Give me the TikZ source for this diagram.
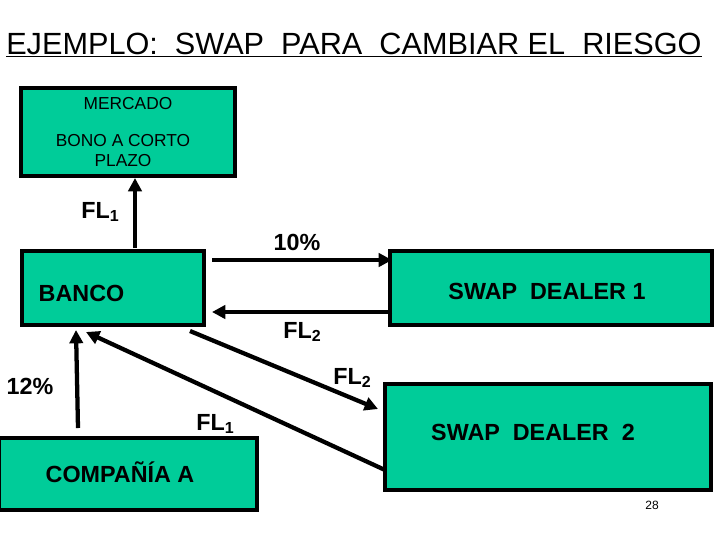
\documentclass[tikz,border=0pt]{standalone}
\usepackage{fontspec}
\setmainfont{Liberation Sans}
\usetikzlibrary{arrows.meta}
\definecolor{boxg}{HTML}{00CC99}
\newcommand{\sbs}[1]{\raisebox{-0.3ex}{\fontsize{12}{12}\selectfont #1}}
\tikzset{
  box/.style={draw=black, line width=3pt, fill=boxg, inner sep=0pt},
  flow/.style={line width=3.2pt, -{Triangle[length=10pt,width=10pt]}},
  lbl/.style={font=\fontsize{17.5}{19}\selectfont\bfseries},
  small/.style={font=\fontsize{13}{15}\selectfont, align=center}
}
\begin{document}
\begin{tikzpicture}[x=0.75pt,y=-0.75pt]
\useasboundingbox (0,0) rectangle (720,540);
\node[anchor=base west,font=\fontsize{23}{25}\selectfont, inner sep=0pt] (title) at (6,54) {\underline{EJEMPLO:\ \ SWAP\ \ PARA\ \ CAMBIAR EL\ \ RIESGO}};
\node[box, minimum width=160pt, minimum height=66pt] (merc) at (128,132) {};
\node[small] (mtxt) at (128,104) {MERCADO};
\node[small] (btxt) at (123,151) {BONO A CORTO\\PLAZO};
\node[box, minimum width=137pt, minimum height=56pt] (banco) at (113,288) {};
\node[lbl,anchor=west] (bt) at (34,293) {BANCO};
\node[box, minimum width=241pt, minimum height=56pt] (sd1) at (551,288) {};
\node[lbl] (s1t) at (547,291) {SWAP\ \ DEALER 1};
\node[box, minimum width=245pt, minimum height=80pt] (sd2) at (548,437) {};
\node[lbl] (s2t) at (533,432) {SWAP\ \ DEALER\ \ 2};
\node[box, minimum width=193pt, minimum height=54pt] (comp) at (128,474) {};
\node[lbl] (ct) at (120,472) {COMPAÑÍA A};
\coordinate (a1) at (135,248); \coordinate (a1e) at (135,178);
\draw[flow] (a1) -- (a1e);
\coordinate (b1) at (212,260); \coordinate (b1e) at (392,260);
\draw[flow] (b1) -- (b1e);
\coordinate (c1) at (392,312); \coordinate (c1e) at (212,312);
\draw[flow] (c1) -- (c1e);
\coordinate (d1) at (190,331); \coordinate (d1e) at (378,409);
\draw[flow] (d1) -- (d1e);
\coordinate (e1) at (385,470); \coordinate (e1e) at (86,332);
\draw[flow] (e1) -- (e1e);
\coordinate (f1) at (78,428); \coordinate (f1e) at (76,330);
\draw[flow] (f1) -- (f1e);
\node[lbl] (l1) at (100,212) {FL\sbs{1}};
\node[lbl] (l2) at (297,242) {10\%};
\node[lbl] (l3) at (302,332) {FL\sbs{2}};
\node[lbl] (l4) at (352,378) {FL\sbs{2}};
\node[lbl] (l5) at (30,386) {12\%};
\node[lbl] (l6) at (215,424) {FL\sbs{1}};
\node[font=\fontsize{9}{10}\selectfont] (pg) at (652,505) {28};
\end{tikzpicture}
\end{document}
